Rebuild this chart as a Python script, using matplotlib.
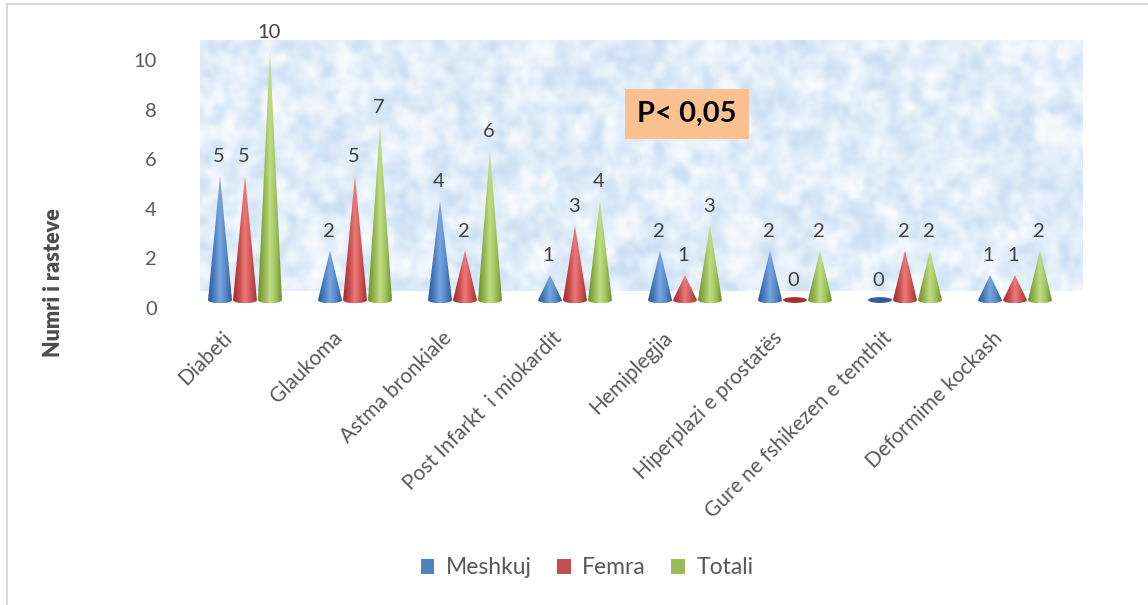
import numpy as np
import matplotlib
matplotlib.use("Agg")
import matplotlib.pyplot as plt
from matplotlib.patches import Patch, PathPatch, Ellipse, Rectangle
from matplotlib.path import Path
from matplotlib.colors import LinearSegmentedColormap
from matplotlib.transforms import ScaledTranslation

plt.rcParams['font.family'] = ['Lato', 'DejaVu Sans']

# --- Daten ---
kategorite = ["Diabeti", "Glaukoma", "Astma bronkiale", "Post Infarkt  i miokardit",
              "Hemiplegjia", "Hiperplazi e prostatës", "Gure ne fshikezen e temthit",
              "Deformime kockash"]
meshkuj = [5, 2, 4, 1, 2, 2, 0, 1]
femra = [5, 5, 2, 3, 1, 0, 2, 1]
totali = [10, 7, 6, 4, 3, 2, 2, 2]

seria = ["Meshkuj", "Femra", "Totali"]
ngjyra = ["#4f81bd", "#c0504d", "#9bbb59"]
# hije per konin: e erret -> e ndritshme -> e erret
hije = [
    ["#2c5a94", "#4a7dc0", "#79a6dd", "#5687c8", "#2f5d98"],
    ["#9c2f2c", "#c4484a", "#ec7a78", "#cf5554", "#a03432"],
    ["#6f8f2e", "#93b54f", "#c2dd84", "#a2c25e", "#718f2f"],
]
ngjyra_zero = ["#2f5d98", "#a8302e", "#76932f"]


def zbut(a, n):
    # mesatare e thjeshte me fqinjet, e perseritur
    for _ in range(n):
        a = (a + np.roll(a, 1, 0) + np.roll(a, -1, 0) + np.roll(a, 1, 1) + np.roll(a, -1, 1)) / 5
    return a


fig = plt.figure(figsize=(11.48, 6.05), dpi=100)
W, H = 1148, 605

# boshtet: 110 px per kategori, 24.8 px per njesi
ax = fig.add_axes([190 / W, (605 - 311.2) / H, 902 / W, 279 / H])

# muri i sfondit me teksture
rng = np.random.default_rng(7)
imet = zbut(rng.random((100, 360)), 2)
trash = zbut(np.kron(rng.random((20, 72)), np.ones((5, 5))), 6)
teks = 0.6 * (imet - imet.mean()) / imet.std() + (trash - trash.mean()) / trash.std()
cmap_mur = LinearSegmentedColormap.from_list("mur", ["#cbdff3", "#dae8f7", "#e9f2fb", "#f8fbfe"])
ax.imshow(teks, extent=(-0.409, 7.618, 0.363, 10.48), aspect='auto', vmin=-2.6, vmax=2.6,
          cmap=cmap_mur, interpolation='bicubic', zorder=0)

hw = 0.109   # gjysme gjeresia e konit
eh = 0.13    # gjysme lartesia e elipses se bazes
zhvendos = [-0.227, 0.0, 0.227]

for s, vlerat in enumerate([meshkuj, femra, totali]):
    cmap = LinearSegmentedColormap.from_list("k%d" % s, hije[s])
    for i, v in enumerate(vlerat):
        x = i + zhvendos[s]
        if v == 0:
            ax.add_patch(Ellipse((x, 0), 2 * hw, 2 * eh * 0.9, facecolor=ngjyra_zero[s],
                                 edgecolor='none', zorder=3 + s))
        else:
            t = np.linspace(np.pi, 2 * np.pi, 30)
            pts = [(x, v)] + list(zip(x + hw * np.cos(t), eh * np.sin(t)))
            kodet = [Path.MOVETO] + [Path.LINETO] * (len(pts) - 1) + [Path.CLOSEPOLY]
            kon = PathPatch(Path(pts + [(x, v)], kodet), facecolor='none',
                            edgecolor='none')
            ax.add_patch(kon)
            grad = np.linspace(0, 1, 64).reshape(1, -1)
            im = ax.imshow(grad, extent=(x - hw, x + hw, -eh, v), aspect='auto',
                           cmap=cmap, interpolation='bilinear', zorder=3 + s)
            im.set_clip_path(kon)
        ax.annotate(str(v), (x, v), xytext=(-1, 10), textcoords='offset points',
                    ha='center', va='baseline', fontsize=14.5, color='#404040', zorder=10)

ax.set_xlim(-0.5, 7.7)
ax.set_ylim(-0.45, 10.8)

for sp in ax.spines.values():
    sp.set_visible(False)

ax.set_yticks([0, 2, 4, 6, 8, 10])
ax.tick_params(axis='y', length=0, pad=24, labelsize=14.5, labelcolor='#595959')
for lbl in ax.get_yticklabels():
    lbl.set_transform(lbl.get_transform() + ScaledTranslation(0, -0.08, fig.dpi_scale_trans))

ax.set_xticks(range(len(kategorite)))
ax.set_xticklabels(kategorite, rotation=45, ha='right')
ax.tick_params(axis='x', length=0, pad=12, labelsize=15, labelcolor='#595959')
for lbl in ax.get_xticklabels():
    lbl.set_transform(lbl.get_transform() + ScaledTranslation(-0.09, 0, fig.dpi_scale_trans))

fig.text(54 / W, 1 - 283 / H, "Numri i rasteve", rotation=90, ha='center', va='center',
         fontsize=15.5, fontweight='heavy', color='#4d4d4d')

# kutia me vleren p
fig.text(687 / W, 1 - 114 / H, "P< 0,05", ha='center', va='center', fontsize=21,
         fontweight='bold', color='black',
         bbox=dict(boxstyle='square,pad=0.42', facecolor='#fac090', edgecolor='none'))

doreza = [Patch(facecolor=c, edgecolor='none') for c in ngjyra]
fig.legend(doreza, seria, loc='center', bbox_to_anchor=(587 / W, 1 - 568 / H), ncol=3,
           frameon=False, fontsize=16.5, labelcolor='#595959', handlelength=0.6,
           handleheight=0.6, handletextpad=0.5, columnspacing=1.1)

# korniza e grafikut
fig.add_artist(Rectangle((7 / W, -0.05), 1.05, 1.05 - 4 / H, transform=fig.transFigure,
                         facecolor='none', edgecolor='#d9d9d9', linewidth=1.5, clip_on=False))

fig.savefig("out.png", dpi=100)
